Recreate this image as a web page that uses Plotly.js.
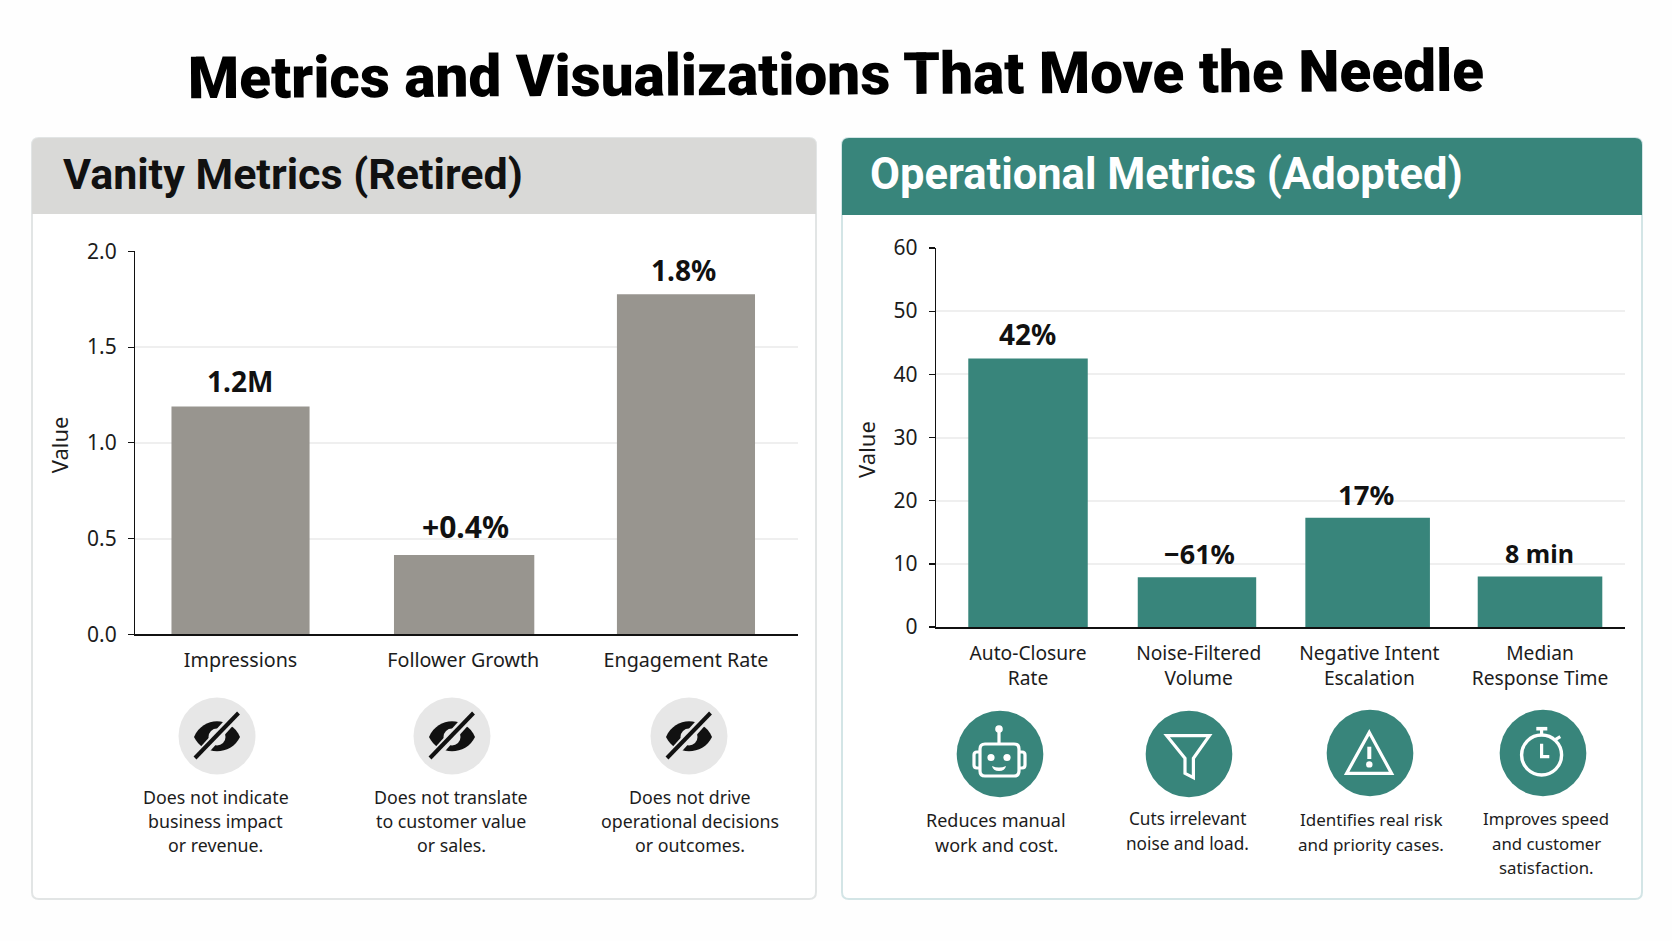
<!DOCTYPE html>
<html><head><meta charset="utf-8">
<script src="https://cdn.plot.ly/plotly-3.0.1.min.js"></script>
<style>html,body{margin:0;padding:0;background:#fefefe}#c{width:1672px;height:941px}</style>
</head><body><div id="c"></div>
<script>
const vanityCategories = ['Impressions','Follower Growth','Engagement Rate'];
const vanityValues = [1.19,0.414,1.776];
const vanityLabels = ['1.2M','+0.4%','1.8%'];
const vanityCaptions = ['Does not indicate<br>business impact<br>or revenue.','Does not translate<br>to customer value<br>or sales.','Does not drive<br>operational decisions<br>or outcomes.'];
const opsCategories = ['Auto-Closure<br>Rate','Noise-Filtered<br>Volume','Negative Intent<br>Escalation','Median<br>Response Time'];
const opsValues = [42.5,7.9,17.3,8.0];
const opsLabels = ['42%','−61%','17%','8 min'];
const opsCaptions = ['Reduces manual<br>work and cost.','Cuts irrelevant<br>noise and load.','Identifies real risk<br>and priority cases.','Improves speed<br>and customer<br>satisfaction.'];

const W=1672,H=941, TEAL='#38857b', GREY='#98958f', FONT='"Noto Sans", "Open Sans", sans-serif', HEAD='Roboto, "Noto Sans", sans-serif', INK='#1c1c1c';
const fx=x=>x/W, fy=y=>1-y/H;
function P(s,cx=0,cy=0){let isX=true;return s.trim().split(/\s+/).map(t=>{
  if(/^[A-Za-z]$/.test(t)){isX=true;return t;}
  const v=parseFloat(t);const r=isX?fx(v+cx):fy(v+cy);isX=!isX;return r.toFixed(6);}).join(' ');}
const shapes=[];
function path(s,cx,cy,o){shapes.push(Object.assign({type:'path',xref:'paper',yref:'paper',path:P(s,cx,cy),layer:'above',line:{width:0}},o));}
function circ(cx,cy,r,o){shapes.push(Object.assign({type:'circle',xref:'paper',yref:'paper',x0:fx(cx-r),x1:fx(cx+r),y0:fy(cy+r),y1:fy(cy-r),layer:'above',line:{width:0}},o));}
function card(x0,x1,y0,yh,y1,head,border){const r=7;
  shapes.push({type:'path',xref:'paper',yref:'paper',layer:'below',fillcolor:'#ffffff',line:{color:border,width:2},
    path:P(`M ${x0+r} ${y0} L ${x1-r} ${y0} Q ${x1} ${y0} ${x1} ${y0+r} L ${x1} ${y1-r} Q ${x1} ${y1} ${x1-r} ${y1} L ${x0+r} ${y1} Q ${x0} ${y1} ${x0} ${y1-r} L ${x0} ${y0+r} Q ${x0} ${y0} ${x0+r} ${y0} Z`)});
  shapes.push({type:'path',xref:'paper',yref:'paper',layer:'below',fillcolor:head,line:{width:0},
    path:P(`M ${x0+r} ${y0} L ${x1-r} ${y0} Q ${x1} ${y0} ${x1} ${y0+r} L ${x1} ${yh} L ${x0} ${yh} L ${x0} ${y0+r} Q ${x0} ${y0} ${x0+r} ${y0} Z`)});
}
card(32,816,138,214,899,'#d9d9d7','#e2e5e5');
card(842,1642,138,215,899,TEAL,'#d3e5e6');

[[217,736],[452,736],[689,736]].forEach(([cx,cy])=>{
  circ(cx,cy,38.5,{fillcolor:'#e7e7e7'});
  path('M -23 1 C -14 -20 14 -20 23 1 C 14 20 -14 20 -23 1 Z',cx,cy,{fillcolor:'#111111'});
  circ(cx,cy+1,8.5,{fillcolor:'#e7e7e7'});
  path('M -18 20 L 18 -20',cx,cy,{line:{color:'#e7e7e7',width:10}});
  path('M -22 22 L 21.5 -23',cx,cy,{line:{color:'#111111',width:4}});
});
const white={line:{color:'#ffffff',width:3.2}};
[[1000,754],[1189,754],[1370,753],[1543,753]].forEach(([cx,cy])=>circ(cx,cy,43.3,{fillcolor:TEAL}));
(function(cx,cy){
  path('M -15 -10 L 14 -10 Q 19 -10 19 -5 L 19 17 Q 19 22 14 22 L -15 22 Q -20 22 -20 17 L -20 -5 Q -20 -10 -15 -10 Z',cx,cy,white);
  path('M -20 -2 L -23 -2 Q -26 -2 -26 1 L -26 11 Q -26 14 -23 14 L -20 14',cx,cy,white);
  path('M 19 -2 L 22 -2 Q 25 -2 25 1 L 25 11 Q 25 14 22 14 L 19 14',cx,cy,white);
  path('M -1 -10 L -1 -22',cx,cy,white);
  circ(cx-1,cy-25,3.8,{fillcolor:'#fff'}); circ(cx-9,cy+3.5,3.6,{fillcolor:'#fff'}); circ(cx+7,cy+3.5,3.6,{fillcolor:'#fff'});
  path('M -8 12 Q -1 15 6 12 Q 5 17 -1 17 Q -7 17 -8 12 Z',cx,cy,{fillcolor:'#fff'});
})(1000,754);
path('M -22 -18.3 L 20.7 -18.3 L 4.7 4.3 L 4.7 23.7 L -3.7 19.3 L -3.7 4.3 Z',1188.7,754,white);
path('M 0 -20.3 L 22.3 20.7 L -22.7 20.7 Z',1369.3,752.7,white);
path('M 0 -6 L 0 6.3',1369.3,752.7,{line:{color:'#fff',width:4}});
circ(1369.3,764.4,3.2,{fillcolor:'#fff'});
(function(cx,cy){
  circ(cx-1.7,cy+2.3,20,{line:{color:'#fff',width:3.4},fillcolor:'rgba(0,0,0,0)'});
  path('M -7 -24 L 4 -24',cx,cy,{line:{color:'#fff',width:3.6}});
  path('M -1.7 -24 L -1.7 -18',cx,cy,white);
  path('M 12 -13 L 17 -16',cx,cy,white);
  path('M -1.7 -9 L -1.7 4 L 6 4',cx,cy,white);
})(1543.3,752.7);

function ann(text,x,y,size,o){return Object.assign({xref:'paper',yref:'paper',x:fx(x),y:fy(y),text,showarrow:false,xanchor:'center',yanchor:'middle',font:{family:FONT,size,color:INK}},o||{});}
const annotations=[
  ann('Vanity Metrics (Retired)',61,174,43,{xanchor:'left',font:{family:HEAD,size:43,color:'#111',weight:700}}),
  ann('Operational Metrics (Adopted)',868,174,43.5,{xanchor:'left',font:{family:HEAD,size:43.5,color:'#fff',weight:700}}),
];
function caption(txt,x,y,size){const ls=txt.split('<br>');ls.forEach((t,i)=>annotations.push(ann(t,x,y+(i-(ls.length-1)/2)*24.4,size)));}
[[215.5,821],[451,821],[690,821]].forEach(([x,y],i)=>caption(vanityCaptions[i],x,y,17.8));
[[996,832.5,18],[1187,831,17.2],[1371,832,17],[1546,843,16.8]].forEach(([x,y,s],i)=>caption(opsCaptions[i],x,y,s));
const vShift=[[-1,4,28],[2,6,30],[-2,3,28]], oShift=[[-1,4,28],[1,3,27],[-3,3,27.5],[-1,5,25]];
const lf=size=>({family:FONT,size,color:'#111',weight:700});
vanityCategories.forEach((c,i)=>annotations.push({xref:'x',yref:'y',x:c,y:vanityValues[i],text:vanityLabels[i],showarrow:false,yanchor:'bottom',xshift:vShift[i][0],yshift:vShift[i][1],font:lf(vShift[i][2])}));
opsCategories.forEach((c,i)=>annotations.push({xref:'x2',yref:'y2',x:c,y:opsValues[i],text:opsLabels[i],showarrow:false,yanchor:'bottom',xshift:oShift[i][0],yshift:oShift[i][1],font:lf(oShift[i][2])}));

const yBase={showline:true,linecolor:'#111',linewidth:1.5,ticks:'outside',ticklen:6,tickcolor:'#111',tickwidth:1.2,gridcolor:'#efefef',gridwidth:2,zeroline:false,tickfont:{family:FONT,size:21,color:INK},ticklabelstandoff:7,title:{text:'Value',standoff:12,font:{family:FONT,size:22,color:INK}}};
const xBase={type:'category',showline:true,linecolor:'#111',linewidth:2,ticks:'',showgrid:false,tickfont:{family:FONT,size:19.7,color:INK},ticklabelstandoff:7,tickangle:0,automargin:false};
const layout={width:W,height:H,margin:{l:0,r:0,t:0,b:0},paper_bgcolor:'#fefefe',plot_bgcolor:'rgba(0,0,0,0)',showlegend:false,
  title:{text:'Metrics and Visualizations That Move the Needle',x:0.5,xanchor:'center',y:fy(74),yanchor:'middle',font:{family:HEAD,size:58.5,color:'#000',weight:900}},
  xaxis:Object.assign({},xBase,{domain:[fx(135.4),fx(798)],range:[-0.472,2.503],anchor:'y'}),
  yaxis:Object.assign({},yBase,{domain:[fy(634.3),fy(251.4)],range:[0,2],tickvals:[0,0.5,1,1.5,2],ticktext:['0.0','0.5','1.0','1.5','2.0'],anchor:'x'}),
  xaxis2:Object.assign({},xBase,{domain:[fx(936.2),fx(1625)],range:[-0.538,3.498],anchor:'y2',tickfont:{family:FONT,size:19.2,color:INK},ticklabelstandoff:8}),
  yaxis2:Object.assign({},yBase,{domain:[fy(627.1),fy(247.9)],range:[0,60],dtick:10,anchor:'x2'}),
  shapes,annotations};
const vW=[0.62,0.63,0.62], vD=[0,0.004,0], oW=[0.70,0.694,0.73,0.73], oD=[0,-0.01,-0.01,0];
const traces=[
 {type:'bar',x:vanityCategories,y:vanityValues,xaxis:'x',yaxis:'y',width:vW,offset:vW.map((w,i)=>-w/2+vD[i]),marker:{color:GREY},hoverinfo:'skip'},
 {type:'bar',x:opsCategories,y:opsValues,xaxis:'x2',yaxis:'y2',width:oW,offset:oW.map((w,i)=>-w/2+oD[i]),marker:{color:TEAL},hoverinfo:'skip'}
];
Plotly.newPlot('c',traces,layout,{displayModeBar:false,staticPlot:true}).then(gd=>{
  const t=gd.querySelector('.g-gtitle text'); if(t) t.setAttribute('transform','rotate(-0.33 836 74)');
  const nudge=(sel,dy)=>{const e=gd.querySelector(sel); if(e) e.setAttribute('transform','translate(0,'+dy+') '+(e.getAttribute('transform')||''));};
  nudge('.ytitle',2); nudge('.y2title',12);
});
</script></body></html>
